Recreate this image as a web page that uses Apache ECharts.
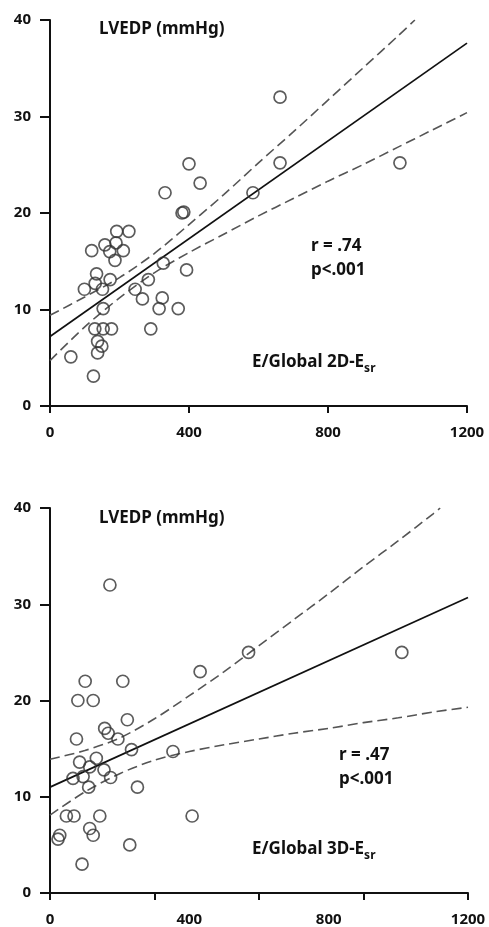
<!DOCTYPE html>
<html>
<head>
<meta charset="utf-8">
<script src="https://cdn.jsdelivr.net/npm/echarts@6/dist/echarts.min.js"></script>
<style>
  html, body { margin: 0; padding: 0; background: #fff; }
  #chart { width: 489px; height: 927px; }
</style>
</head>
<body>
<div id="chart"></div>
<script>
// LVEDP (mmHg) against E/Global 2D-Esr (upper panel)
const pts2D = [
  [192, 18.1], [227, 18.1], [120, 16.1], [158, 16.7], [190, 16.9], [211, 16.1],
  [172, 16.0], [187, 15.1], [134, 13.7], [173, 13.1], [99, 12.1], [130, 12.7],
  [151, 12.1], [153, 10.1], [326, 14.8], [283, 13.1], [245, 12.1], [266, 11.1],
  [323, 11.2], [314, 10.1], [369, 10.1], [393, 14.1], [290, 8.0], [129, 8.0],
  [153, 8.0], [177, 8.0], [137, 6.7], [149, 6.2], [137, 5.5], [60, 5.1],
  [125, 3.1], [380, 20.0], [385, 20.1], [400, 25.1], [432, 23.1], [331, 22.1],
  [662, 32.0], [662, 25.2], [1007, 25.2], [584, 22.1]
];
// regression line and 95% confidence limits, upper panel
const fit2D = [[0, 7.2], [1200, 37.6]];
const upper2D = [[0, 9.4], [100, 11.3], [200, 13.3], [300, 15.8], [400, 18.8], [500, 21.9],
  [600, 25.2], [700, 28.4], [800, 31.7], [900, 35.0], [1000, 38.3], [1050, 40.0]];
const lower2D = [[0, 4.7], [100, 8.2], [200, 11.2], [300, 13.8], [400, 15.9], [500, 17.8],
  [600, 19.7], [700, 21.5], [800, 23.3], [900, 25.0], [1000, 26.8], [1100, 28.6], [1200, 30.4]];

// LVEDP (mmHg) against E/Global 3D-Esr (lower panel)
const pts3D = [
  [172, 32.0], [101, 22.0], [209, 22.0], [80, 20.0], [124, 20.0], [431, 23.0],
  [570, 25.0], [1010, 25.0], [222, 18.0], [157, 17.1], [167, 16.6], [195, 16.0],
  [76, 16.0], [234, 14.9], [353, 14.7], [85, 13.6], [133, 14.0], [114, 13.1],
  [155, 12.8], [66, 11.9], [95, 12.1], [174, 12.0], [111, 11.0], [251, 11.0],
  [47, 8.0], [69, 8.0], [143, 8.0], [408, 8.0], [114, 6.7], [124, 6.0],
  [28, 6.0], [23, 5.6], [229, 5.0], [92, 3.0]
];
const fit3D = [[0, 11.0], [1200, 30.7]];
const upper3D = [[0, 13.9], [100, 14.8], [200, 16.1], [300, 18.1], [400, 20.5], [500, 23.0],
  [600, 25.7], [700, 28.4], [800, 31.1], [900, 33.9], [1000, 36.6], [1100, 39.4], [1120, 40.0]];
const lower3D = [[0, 8.1], [100, 10.5], [200, 12.4], [300, 13.8], [400, 14.7], [500, 15.4],
  [600, 16.0], [700, 16.6], [800, 17.1], [900, 17.7], [1000, 18.2], [1100, 18.8], [1200, 19.3]];

const xTickLabels = ['0', '400', '800', '1200'];
const yTickLabels = ['0', '10', '20', '30', '40'];

const FONT = 'Noto Sans';
const INK = '#111';

function yAxisFor(gridIndex) {
  return {
    gridIndex, type: 'value', min: 0, max: 40, interval: 10,
    splitLine: { show: false },
    axisLine: { show: true, lineStyle: { color: INK, width: 2 } },
    axisTick: { show: true, length: 10, lineStyle: { color: INK, width: 2 } },
    axisLabel: {
      margin: 19, color: INK, fontFamily: FONT, fontWeight: 'bold', fontSize: 15,
      formatter: v => yTickLabels[v / 10]
    }
  };
}

function xAxisFor(gridIndex, interval, showLine, showLabel) {
  return {
    gridIndex, type: 'value', min: 0, max: 1200, interval, position: 'bottom',
    splitLine: { show: false },
    axisLine: { show: showLine, onZero: false, lineStyle: { color: INK, width: 2 } },
    axisTick: { show: showLine, length: 7, lineStyle: { color: INK, width: 2 } },
    axisLabel: {
      show: showLabel, margin: 19, color: INK, fontFamily: FONT, fontWeight: 'bold', fontSize: 15,
      formatter: v => xTickLabels[v / 400]
    }
  };
}

function scatter(data, xi, yi) {
  return {
    type: 'scatter', xAxisIndex: xi, yAxisIndex: yi, data, z: 5,
    symbol: 'circle', symbolSize: 12,
    itemStyle: { color: 'rgba(0,0,0,0)', borderColor: '#333', borderWidth: 1.7 }
  };
}

function line(data, xi, yi, dashed) {
  return {
    type: 'line', xAxisIndex: xi, yAxisIndex: yi, data, smooth: dashed ? 0.3 : false,
    symbol: 'none', clip: true, z: 3,
    lineStyle: dashed
      ? { color: '#555', width: 1.6, type: [10, 5] }
      : { color: INK, width: 1.7 }
  };
}

function labelText(x, y, text, size) {
  return {
    type: 'text', left: x, top: y,
    style: { text, fill: INK, font: `bold ${size}px "${FONT}"` }
  };
}

function xAxisTitle(x, y, main) {
  return {
    type: 'text', left: x, top: y,
    style: {
      text: `{m|${main}}{s|sr}`,
      rich: {
        m: { fill: INK, fontFamily: FONT, fontWeight: 'bold', fontSize: 17, lineHeight: 22, verticalAlign: 'top' },
        s: { fill: INK, fontFamily: FONT, fontWeight: 'bold', fontSize: 12, lineHeight: 22, padding: [9, 0, 0, 0], verticalAlign: 'top' }
      }
    }
  };
}

const chart = echarts.init(document.getElementById('chart'), null, { renderer: 'canvas' });
chart.setOption({
  backgroundColor: '#fff',
  animation: false,
  grid: [
    { left: 50, top: 20, width: 417, height: 386 },
    { left: 50, top: 508, width: 418, height: 385 }
  ],
  xAxis: [
    xAxisFor(0, 400, true, true),
    xAxisFor(1, 300, true, false),
    xAxisFor(1, 400, false, true)
  ],
  yAxis: [yAxisFor(0), yAxisFor(1)],
  series: [
    line(upper2D, 0, 0, true),
    line(lower2D, 0, 0, true),
    line(fit2D, 0, 0, false),
    scatter(pts2D, 0, 0),
    line(upper3D, 1, 1, true),
    line(lower3D, 1, 1, true),
    line(fit3D, 1, 1, false),
    scatter(pts3D, 1, 1)
  ],
  graphic: [
    labelText(99, 21, 'LVEDP (mmHg)', 17),
    labelText(311, 238, 'r = .74', 17),
    labelText(311, 262, 'p<.001', 17),
    xAxisTitle(252, 354, 'E/Global 2D-E'),
    labelText(99, 510, 'LVEDP (mmHg)', 17),
    labelText(339, 747, 'r = .47', 17),
    labelText(339, 771, 'p<.001', 17),
    xAxisTitle(252, 841, 'E/Global 3D-E')
  ]
});
</script>
</body>
</html>
